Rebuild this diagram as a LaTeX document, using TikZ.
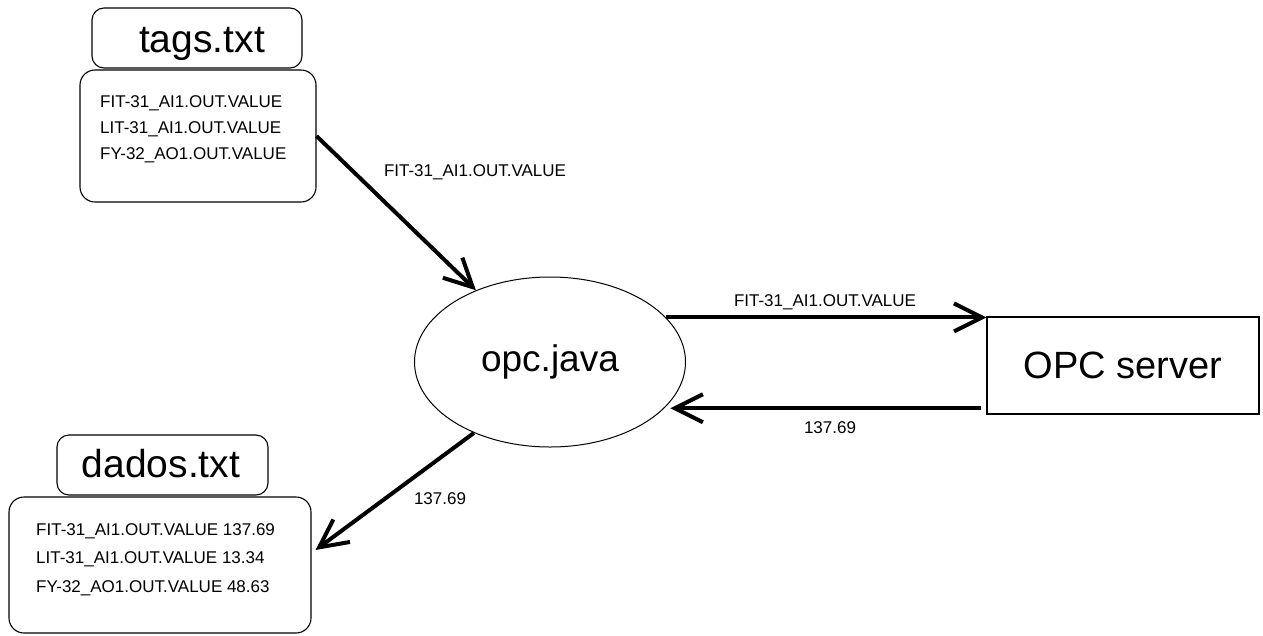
\documentclass[tikz,border=0pt]{standalone}
\usepackage{fontspec}
\setmainfont{Liberation Sans}
\usetikzlibrary{shapes.geometric,arrows.meta,calc}
\begin{document}
\begin{tikzpicture}[x=1pt,y=-1pt,
  box/.style={draw, line width=1.1pt, inner sep=0pt},
  hdr/.style={box, rounded corners=12pt},
  bodybox/.style={box, rounded corners=15pt},
  small/.style={inner sep=0pt, anchor=base west, font=\fontsize{17}{20}\selectfont},
  big/.style={inner sep=0pt, font=\fontsize{39}{44}\selectfont},
  arr/.style={line width=4pt, -{Straight Barb[length=28pt,width=28pt,line width=4pt]}}]
\useasboundingbox (0,0) rectangle (1263,635);
\fill[white] (0,0) rectangle (1263,635);

% tags.txt
\node[hdr, minimum width=210pt, minimum height=60pt] (tagshead) at (197,38) {};
\node[big, anchor=base] (tagstitle) at (202,52) {tags.txt};
\node[bodybox, minimum width=236pt, minimum height=132pt] (tagsbody) at (198,136) {};
\node[small] (t1) at (100,107) {FIT-31\_AI1.OUT.VALUE};
\node[small] (t2) at (100,133) {LIT-31\_AI1.OUT.VALUE};
\node[small] (t3) at (100,159) {FY-32\_AO1.OUT.VALUE};

% dados.txt
\node[hdr, minimum width=211pt, minimum height=60pt] (dadoshead) at (162.5,465) {};
\node[big, anchor=base] (dadostitle) at (161,477) {dados.txt};
\node[bodybox, minimum width=302pt, minimum height=136pt] (dadosbody) at (160,565) {};
\node[small] (d1) at (36,535) {FIT-31\_AI1.OUT.VALUE 137.69};
\node[small] (d2) at (36,563) {LIT-31\_AI1.OUT.VALUE 13.34};
\node[small] (d3) at (36,592) {FY-32\_AO1.OUT.VALUE 48.63};

% opc.java
\node[ellipse, draw, line width=1pt, inner sep=0pt, minimum width=271pt, minimum height=170pt,
      font=\fontsize{37}{42}\selectfont] (opc) at (550,362) {opc.java};

% OPC server
\node[box, minimum width=272pt, minimum height=97pt, font=\fontsize{38}{43}\selectfont]
      (opcs) at (1123,365.5) {OPC server};

% connectors
\draw[arr] (tagsbody.east) -- (opc)
  node[small] (l1) at (382,176) {FIT-31\_AI1.OUT.VALUE};
\draw[arr] (opc.21) -- (opc.21 -| opcs.west)
  node[small] (l2) at (732,306) {FIT-31\_AI1.OUT.VALUE};
\draw[arr, shorten <=5pt, shorten >=6pt] (opc.-22 -| opcs.west) -- (opc.-22)
  node[small] (l3) at (802,433) {137.69};
\draw[arr] (opc.223) -- ($(dadosbody.east)+(4,-15)$)
  node[small] (l4) at (412,504) {137.69};
\end{tikzpicture}
\end{document}
